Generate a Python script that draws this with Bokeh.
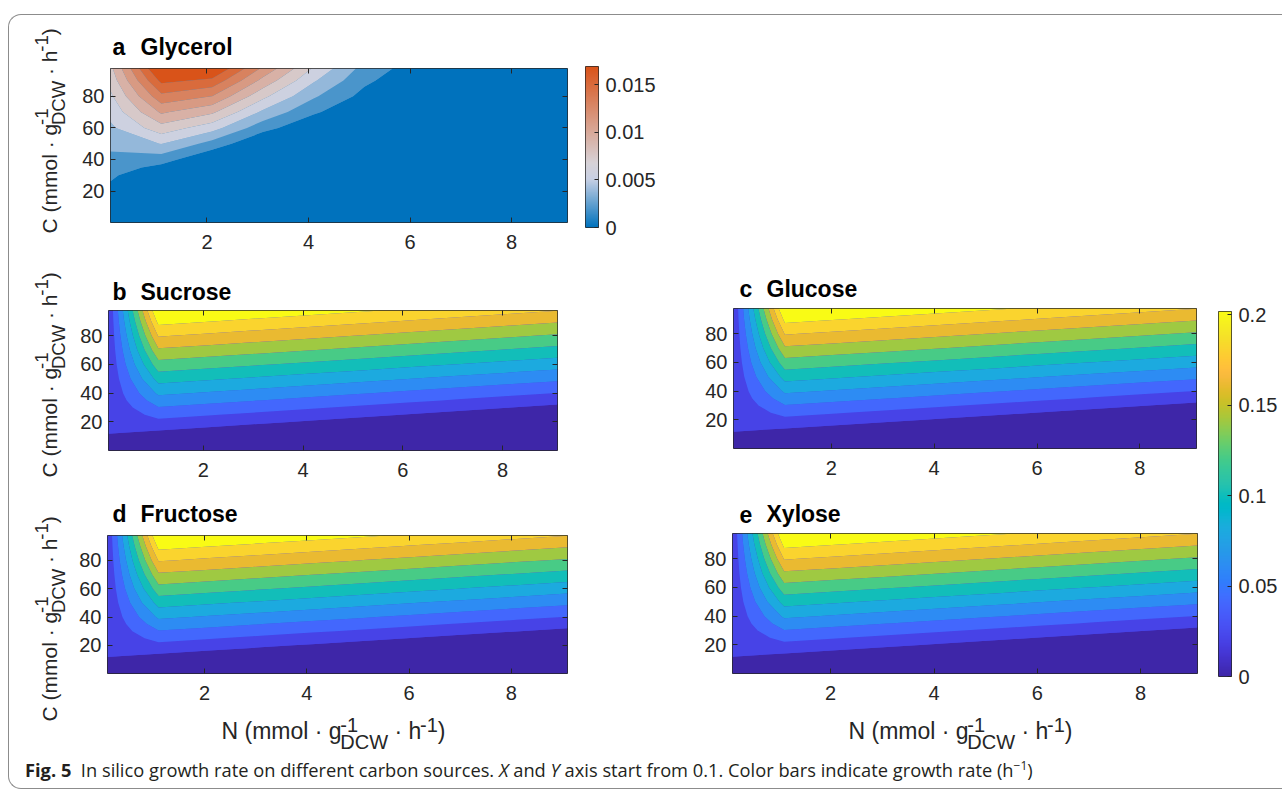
import numpy as np
from bokeh.plotting import figure
from bokeh.models import Range1d, FixedTicker, LinearAxis, Label, LinearColorMapper, Div, Spacer
from bokeh.layouts import row, column
from bokeh.embed import file_html
from bokeh.resources import INLINE

# ------------------------------------------------------------------ data
n_uptake = [0.1, 1.1, 2.1, 3.1, 4.1, 5.1, 6.1, 7.1, 8.1, 9.1]
c_uptake = [0.1, 10, 12.5, 20, 25, 30, 35, 40, 50, 60, 70, 80, 90, 97.6]

glycerol_rate = [
    [0, 0, 0, 0, 0, 0, 0, 0, 0, 0],
    [0.00025, 0, 0, 0, 0, 0, 0, 0, 0, 0],
    [0.00046, 0, 0, 0, 0, 0, 0, 0, 0, 0],
    [0.0011, 0, 0, 0, 0, 0, 0, 0, 0, 0],
    [0.0015, 0, 0, 0, 0, 0, 0, 0, 0, 0],
    [0.0019, 0, 0, 0, 0, 0, 0, 0, 0, 0],
    [0.0024, 0.0011, 0, 0, 0, 0, 0, 0, 0, 0],
    [0.0028, 0.00235, 0, 0, 0, 0, 0, 0, 0, 0],
    [0.0036, 0.00485, 0.0026, 0, 0, 0, 0, 0, 0, 0],
    [0.0045, 0.00735, 0.00546, 0.00218, 0.00026, 0, 0, 0, 0, 0],
    [0.0053, 0.00985, 0.00832, 0.0045, 0.00184, 0.00022, 0, 0, 0, 0],
    [0.0061, 0.01235, 0.01118, 0.00682, 0.00342, 0.00108, 0, 0, 0, 0],
    [0.0070, 0.01485, 0.01404, 0.00914, 0.0050, 0.00194, 0.0004, 0, 0, 0],
    [0.0076, 0.01675, 0.0162, 0.0109, 0.0062, 0.0026, 0.0008, 0, 0, 0],
]

sucrose_rate = [
    [0, 0, 0, 0, 0, 0, 0, 0, 0, 0],
    [0.0155, 0.0100, 0.0045, 0, 0, 0, 0, 0, 0, 0],
    [0.0216, 0.0161, 0.0106, 0.0051, 0, 0, 0, 0, 0, 0],
    [0.0220, 0.0345, 0.0290, 0.0235, 0.0180, 0.0125, 0.0069, 0.0014, 0, 0],
    [0.0220, 0.0468, 0.0412, 0.0357, 0.0302, 0.0247, 0.0192, 0.0137, 0.0082, 0.0027],
    [0.0220, 0.0590, 0.0535, 0.0480, 0.0425, 0.0370, 0.0314, 0.0259, 0.0204, 0.0149],
    [0.0220, 0.0713, 0.0657, 0.0602, 0.0547, 0.0492, 0.0437, 0.0382, 0.0327, 0.0272],
    [0.0220, 0.0835, 0.0780, 0.0725, 0.0670, 0.0615, 0.0559, 0.0504, 0.0449, 0.0394],
    [0.0220, 0.1080, 0.1025, 0.0970, 0.0915, 0.0860, 0.0804, 0.0749, 0.0694, 0.0639],
    [0.0220, 0.1325, 0.1270, 0.1215, 0.1160, 0.1105, 0.1049, 0.0994, 0.0939, 0.0884],
    [0.0220, 0.1570, 0.1515, 0.1460, 0.1405, 0.1350, 0.1294, 0.1239, 0.1184, 0.1129],
    [0.0220, 0.1815, 0.1760, 0.1705, 0.1650, 0.1595, 0.1539, 0.1484, 0.1429, 0.1374],
    [0.0220, 0.2060, 0.2005, 0.1950, 0.1895, 0.1840, 0.1784, 0.1729, 0.1674, 0.1619],
    [0.0220, 0.2246, 0.2191, 0.2136, 0.2081, 0.2026, 0.1971, 0.1915, 0.1860, 0.1805],
]

glucose_rate = [
    [0, 0, 0, 0, 0, 0, 0, 0, 0, 0],
    [0.0155, 0.0100, 0.0045, 0, 0, 0, 0, 0, 0, 0],
    [0.0216, 0.0161, 0.0106, 0.0051, 0, 0, 0, 0, 0, 0],
    [0.0220, 0.0345, 0.0290, 0.0235, 0.0180, 0.0125, 0.0069, 0.0014, 0, 0],
    [0.0220, 0.0468, 0.0412, 0.0357, 0.0302, 0.0247, 0.0192, 0.0137, 0.0082, 0.0027],
    [0.0220, 0.0590, 0.0535, 0.0480, 0.0425, 0.0370, 0.0314, 0.0259, 0.0204, 0.0149],
    [0.0220, 0.0713, 0.0657, 0.0602, 0.0547, 0.0492, 0.0437, 0.0382, 0.0327, 0.0272],
    [0.0220, 0.0835, 0.0780, 0.0725, 0.0670, 0.0615, 0.0559, 0.0504, 0.0449, 0.0394],
    [0.0220, 0.1080, 0.1025, 0.0970, 0.0915, 0.0860, 0.0804, 0.0749, 0.0694, 0.0639],
    [0.0220, 0.1325, 0.1270, 0.1215, 0.1160, 0.1105, 0.1049, 0.0994, 0.0939, 0.0884],
    [0.0220, 0.1570, 0.1515, 0.1460, 0.1405, 0.1350, 0.1294, 0.1239, 0.1184, 0.1129],
    [0.0220, 0.1815, 0.1760, 0.1705, 0.1650, 0.1595, 0.1539, 0.1484, 0.1429, 0.1374],
    [0.0220, 0.2060, 0.2005, 0.1950, 0.1895, 0.1840, 0.1784, 0.1729, 0.1674, 0.1619],
    [0.0220, 0.2246, 0.2191, 0.2136, 0.2081, 0.2026, 0.1971, 0.1915, 0.1860, 0.1805],
]

fructose_rate = [
    [0, 0, 0, 0, 0, 0, 0, 0, 0, 0],
    [0.0155, 0.0100, 0.0045, 0, 0, 0, 0, 0, 0, 0],
    [0.0216, 0.0161, 0.0106, 0.0051, 0, 0, 0, 0, 0, 0],
    [0.0220, 0.0345, 0.0290, 0.0235, 0.0180, 0.0125, 0.0069, 0.0014, 0, 0],
    [0.0220, 0.0468, 0.0412, 0.0357, 0.0302, 0.0247, 0.0192, 0.0137, 0.0082, 0.0027],
    [0.0220, 0.0590, 0.0535, 0.0480, 0.0425, 0.0370, 0.0314, 0.0259, 0.0204, 0.0149],
    [0.0220, 0.0713, 0.0657, 0.0602, 0.0547, 0.0492, 0.0437, 0.0382, 0.0327, 0.0272],
    [0.0220, 0.0835, 0.0780, 0.0725, 0.0670, 0.0615, 0.0559, 0.0504, 0.0449, 0.0394],
    [0.0220, 0.1080, 0.1025, 0.0970, 0.0915, 0.0860, 0.0804, 0.0749, 0.0694, 0.0639],
    [0.0220, 0.1325, 0.1270, 0.1215, 0.1160, 0.1105, 0.1049, 0.0994, 0.0939, 0.0884],
    [0.0220, 0.1570, 0.1515, 0.1460, 0.1405, 0.1350, 0.1294, 0.1239, 0.1184, 0.1129],
    [0.0220, 0.1815, 0.1760, 0.1705, 0.1650, 0.1595, 0.1539, 0.1484, 0.1429, 0.1374],
    [0.0220, 0.2060, 0.2005, 0.1950, 0.1895, 0.1840, 0.1784, 0.1729, 0.1674, 0.1619],
    [0.0220, 0.2246, 0.2191, 0.2136, 0.2081, 0.2026, 0.1971, 0.1915, 0.1860, 0.1805],
]

xylose_rate = [
    [0, 0, 0, 0, 0, 0, 0, 0, 0, 0],
    [0.0155, 0.0100, 0.0045, 0, 0, 0, 0, 0, 0, 0],
    [0.0216, 0.0161, 0.0106, 0.0051, 0, 0, 0, 0, 0, 0],
    [0.0220, 0.0345, 0.0290, 0.0235, 0.0180, 0.0125, 0.0069, 0.0014, 0, 0],
    [0.0220, 0.0468, 0.0412, 0.0357, 0.0302, 0.0247, 0.0192, 0.0137, 0.0082, 0.0027],
    [0.0220, 0.0590, 0.0535, 0.0480, 0.0425, 0.0370, 0.0314, 0.0259, 0.0204, 0.0149],
    [0.0220, 0.0713, 0.0657, 0.0602, 0.0547, 0.0492, 0.0437, 0.0382, 0.0327, 0.0272],
    [0.0220, 0.0835, 0.0780, 0.0725, 0.0670, 0.0615, 0.0559, 0.0504, 0.0449, 0.0394],
    [0.0220, 0.1080, 0.1025, 0.0970, 0.0915, 0.0860, 0.0804, 0.0749, 0.0694, 0.0639],
    [0.0220, 0.1325, 0.1270, 0.1215, 0.1160, 0.1105, 0.1049, 0.0994, 0.0939, 0.0884],
    [0.0220, 0.1570, 0.1515, 0.1460, 0.1405, 0.1350, 0.1294, 0.1239, 0.1184, 0.1129],
    [0.0220, 0.1815, 0.1760, 0.1705, 0.1650, 0.1595, 0.1539, 0.1484, 0.1429, 0.1374],
    [0.0220, 0.2060, 0.2005, 0.1950, 0.1895, 0.1840, 0.1784, 0.1729, 0.1674, 0.1619],
    [0.0220, 0.2246, 0.2191, 0.2136, 0.2081, 0.2026, 0.1971, 0.1915, 0.1860, 0.1805],
]

x_ticks = [2, 4, 6, 8]
y_ticks = [20, 40, 60, 80]
glycerol_levels = [-0.0001, 0.0016, 0.0032, 0.0048, 0.0064, 0.0080, 0.0096, 0.0112, 0.0128, 0.0144, 0.03]
sugar_levels = [-0.001, 0.02, 0.04, 0.06, 0.08, 0.10, 0.12, 0.14, 0.16, 0.18, 0.20, 0.30]
glycerol_cbar_ticks = [0, 0.005, 0.01, 0.015]
glycerol_cbar_labels = ["0", "0.005", "0.01", "0.015"]
sugar_cbar_ticks = [0, 0.05, 0.1, 0.15, 0.2]
sugar_cbar_labels = ["0", "0.05", "0.1", "0.15", "0.2"]
glycerol_cbar_max = 0.0169
sugar_cbar_max = 0.2017

# ------------------------------------------------------------------ colours
PARULA = [
    (0.2422, 0.1504, 0.6603), (0.2504, 0.1650, 0.7076), (0.2578, 0.1818, 0.7511), (0.2647, 0.1978, 0.7952),
    (0.2706, 0.2147, 0.8364), (0.2751, 0.2342, 0.8710), (0.2783, 0.2559, 0.8991), (0.2803, 0.2782, 0.9221),
    (0.2813, 0.3006, 0.9414), (0.2810, 0.3228, 0.9579), (0.2795, 0.3447, 0.9717), (0.2760, 0.3667, 0.9829),
    (0.2699, 0.3892, 0.9906), (0.2602, 0.4123, 0.9952), (0.2440, 0.4358, 0.9988), (0.2206, 0.4603, 0.9973),
    (0.1963, 0.4847, 0.9892), (0.1834, 0.5074, 0.9798), (0.1786, 0.5289, 0.9682), (0.1764, 0.5499, 0.9520),
    (0.1687, 0.5703, 0.9359), (0.1540, 0.5902, 0.9218), (0.1460, 0.6091, 0.9079), (0.1380, 0.6276, 0.8973),
    (0.1248, 0.6459, 0.8883), (0.1113, 0.6635, 0.8763), (0.0952, 0.6798, 0.8598), (0.0689, 0.6948, 0.8394),
    (0.0297, 0.7082, 0.8163), (0.0036, 0.7203, 0.7917), (0.0067, 0.7312, 0.7660), (0.0433, 0.7411, 0.7394),
    (0.0964, 0.7500, 0.7120), (0.1408, 0.7584, 0.6842), (0.1717, 0.7670, 0.6554), (0.1938, 0.7758, 0.6251),
    (0.2161, 0.7843, 0.5923), (0.2470, 0.7918, 0.5567), (0.2906, 0.7973, 0.5188), (0.3406, 0.8008, 0.4789),
    (0.3909, 0.8029, 0.4354), (0.4456, 0.8024, 0.3909), (0.5044, 0.7993, 0.3480), (0.5616, 0.7942, 0.3045),
    (0.6174, 0.7876, 0.2612), (0.6720, 0.7793, 0.2227), (0.7242, 0.7698, 0.1910), (0.7738, 0.7598, 0.1646),
    (0.8203, 0.7498, 0.1535), (0.8634, 0.7406, 0.1596), (0.9035, 0.7330, 0.1774), (0.9393, 0.7288, 0.2100),
    (0.9728, 0.7298, 0.2394), (0.9956, 0.7434, 0.2371), (0.9970, 0.7659, 0.2199), (0.9952, 0.7893, 0.2028),
    (0.9892, 0.8136, 0.1885), (0.9786, 0.8386, 0.1766), (0.9676, 0.8639, 0.1643), (0.9610, 0.8890, 0.1537),
    (0.9597, 0.9135, 0.1423), (0.9628, 0.9373, 0.1265), (0.9691, 0.9606, 0.1064), (0.9769, 0.9839, 0.0805),
]
GLY_ANCHORS = [(0.0, (0, 114, 189)), (0.3, (200, 208, 228)), (0.4, (215, 210, 215)), (1.0, (217, 83, 25))]


def hexc(rgb):
    return "#%02x%02x%02x" % tuple(int(round(max(0, min(255, v)))) for v in rgb)


def parula(t):
    pos = min(max(t, 0.0), 1.0) * (len(PARULA) - 1)
    i = min(int(np.floor(pos)), len(PARULA) - 2)
    f = pos - i
    a, b = PARULA[i], PARULA[i + 1]
    return hexc([255 * (a[k] + (b[k] - a[k]) * f) for k in range(3)])


def gly_cmap(t):
    t = min(max(t, 0.0), 1.0)
    for (t0, c0), (t1, c1) in zip(GLY_ANCHORS[:-1], GLY_ANCHORS[1:]):
        if t <= t1:
            f = (t - t0) / (t1 - t0)
            return hexc([c0[k] + (c1[k] - c0[k]) * f for k in range(3)])
    return hexc(GLY_ANCHORS[-1][1])


sugar_colors = [parula(i / 10) for i in range(11)]
glycerol_colors = [gly_cmap(i / 9) for i in range(10)]
parula256 = [parula(i / 255) for i in range(256)]
gly256 = [gly_cmap(i / 255) for i in range(256)]

FONT = "Liberation Sans"
AX = "#262626"
BASE_FIX = 0.4   # observed downward drift of 'alphabetic' labels, in em

HW = {'N': 722, 'C': 722, ' ': 278, '(': 333, ')': 333, 'm': 833, 'o': 556, 'l': 222, '·': 278,
      'g': 556, 'h': 556, 'D': 722, 'W': 944, '-': 333, '1': 556}


def tw(s, size):
    return sum(HW[ch] for ch in s) * size / 1000.0


def add_text(p, fr, x, y, text, size, bold=False, angle=0.0, color=AX):
    # x, y: figure-local pixels (top-based, baseline start) -> frame-relative screen units
    if angle == 0:
        y = y - BASE_FIX * size
    else:
        x = x - BASE_FIX * size
    p.add_layout(Label(x=x - fr[0], y=fr[3] - y, x_units="screen", y_units="screen", text=text,
                       angle=angle, text_font=FONT, text_font_size="%.1fpx" % size,
                       text_font_style="bold" if bold else "normal", text_color=color,
                       text_align="left", text_baseline="alphabetic"))


def unit_label(p, fr, head, x0, y0, M, S, up, down, rotated):
    parts = []
    a = 0.0
    main1 = head + " (mmol · g"
    parts.append((a, 0, main1, M)); a += tw(main1, M)
    parts.append((a, -up, "-1", S)); parts.append((a, down, "DCW", S))
    a += max(tw("-1", S), tw("DCW", S))
    parts.append((a + tw(" ", M), 0, "· h", M)); a += tw(" · h", M)
    parts.append((a, -up, "-1", S)); a += tw("-1", S)
    parts.append((a, 0, ")", M))
    for along, perp, txt, sz in parts:
        if rotated:
            add_text(p, fr, x0 + perp, y0 - along, txt, sz, angle=np.pi / 2)
        else:
            add_text(p, fr, x0 + along, y0 + perp, txt, sz)


def text_fig(W, H, l=0, rb=0):
    # borders equal to the neighbouring panel so that column alignment is a no-op
    p = figure(width=W, height=H, x_range=Range1d(0, W), y_range=Range1d(0, H),
               output_backend="svg", toolbar_location=None, title=None,
               x_axis_location=None, y_axis_location=None,
               min_border=0, min_border_left=l, min_border_right=rb, min_border_top=0, min_border_bottom=0)
    p.grid.visible = False
    p.outline_line_color = None
    p.background_fill_color = None
    p.border_fill_color = None
    return p, (l, 0, W - rb, H)


def title_fig(W, H, l, rb, letter, name, xl, xn, yb):
    p, fr = text_fig(W, H, l, rb)
    add_text(p, fr, xl, yb, letter, 23, bold=True, color="#000000")
    add_text(p, fr, xn, yb, name, 23, bold=True, color="#000000")
    return p


def style_axis(ax, ticks, labels=True, standoff=6):
    ax.ticker = FixedTicker(ticks=ticks)
    ax.axis_line_color = None
    ax.major_tick_line_color = AX
    ax.major_tick_in = 5
    ax.major_tick_out = 0
    ax.minor_tick_line_color = None
    ax.major_label_text_font = FONT
    ax.major_label_text_color = AX
    ax.major_label_standoff = standoff
    if labels:
        ax.major_label_text_font_size = "20px"
    else:
        ax.major_label_text_font_size = "0px"
        ax.major_label_standoff = 0
        ax.major_label_overrides = {t: "" for t in ticks}


def make_panel(rate, levels, colors, W, H, fr):
    l, t, r, b = fr
    p = figure(width=W, height=H, x_range=Range1d(0.1, 9.1), y_range=Range1d(0.1, 97.6),
               output_backend="svg", toolbar_location=None, title=None,
               min_border_left=l, min_border_top=t, min_border_right=W - r, min_border_bottom=H - b)
    p.contour(x=np.array(n_uptake), y=np.array(c_uptake), z=np.array(rate, dtype=float),
              levels=levels, fill_color=colors)
    p.grid.visible = False
    p.background_fill_color = colors[1]
    p.outline_line_color = AX
    p.outline_line_alpha = 1.0
    p.outline_line_width = 1
    style_axis(p.xaxis[0], x_ticks, True, 12)
    style_axis(p.yaxis[0], y_ticks, True, 6)
    top = LinearAxis()
    style_axis(top, x_ticks, False)
    p.add_layout(top, "above")
    right = LinearAxis()
    style_axis(right, y_ticks, False)
    p.add_layout(right, "right")
    return p


def make_cbar(palette, high, ticks, labels, W, H, fr):
    l, t, r, b = fr
    p = figure(width=W, height=H, x_range=Range1d(0, 1), y_range=Range1d(0, high),
               output_backend="svg", toolbar_location=None, title=None, y_axis_location="right",
               min_border_left=l, min_border_top=t, min_border_right=W - r, min_border_bottom=H - b)
    mapper = LinearColorMapper(palette=palette, low=0, high=high)
    p.image(image=[np.linspace(0, high, 256).reshape(256, 1)], x=0, y=0, dw=1, dh=high,
            color_mapper=mapper)
    p.xaxis.visible = False
    p.grid.visible = False
    p.outline_line_color = AX
    p.outline_line_alpha = 1.0
    ax = p.yaxis[0]
    style_axis(ax, ticks, True, 7)
    ax.major_tick_in = 4
    ax.major_label_overrides = {tk: lb for tk, lb in zip(ticks, labels)}
    return p


# ------------------------------------------------------------------ figures
# shared rotated y labels (page x 9..75, y 15..754)
ylab, frY = text_fig(66, 739)
unit_label(ylab, frY, "C", 48, 218, 21, 18.5, 9, 8, True)
unit_label(ylab, frY, "C", 48, 462, 21, 18.5, 9, 8, True)
unit_label(ylab, frY, "C", 48, 706, 21, 18.5, 9, 8, True)

# a Glycerol (page x 75..575)
tA = title_fig(500, 47, 35, 8, "a", "Glycerol", 37, 65, 41)
pA = make_panel(glycerol_rate, glycerol_levels, glycerol_colors, 500, 195, (35, 6, 492, 160))
cbA = make_cbar(gly256, glycerol_cbar_max, glycerol_cbar_ticks, glycerol_cbar_labels, 90, 242, (10, 51, 23, 212))

# b Sucrose (page x 75..640, y 257..493)
tB = title_fig(565, 48, 33, 83, "b", "Sucrose", 37, 65, 44)
pB = make_panel(sucrose_rate, sugar_levels, sugar_colors, 565, 188, (33, 5, 482, 145))

# d Fructose (page x 75..640, y 493..754)
tD = title_fig(565, 36, 32, 73, "d", "Fructose", 37, 65, 30)
pD = make_panel(fructose_rate, sugar_levels, sugar_colors, 565, 180, (32, 6, 492, 144))
xD, frXD = text_fig(565, 45, 32, 73)
unit_label(xD, frXD, "N", 146, 31, 23, 20, 8, 9, False)

# c Glucose (page x 640..1205, y 257..493)
tC = title_fig(565, 46, 93, 9, "c", "Glucose", 99, 126, 41)
pC = make_panel(glucose_rate, sugar_levels, sugar_colors, 565, 190, (93, 5, 556, 145))

# e Xylose (page x 640..1205, y 493..754)
tE = title_fig(565, 36, 92, 8, "e", "Xylose", 99, 126, 30)
pE = make_panel(xylose_rate, sugar_levels, sugar_colors, 565, 180, (92, 4, 557, 144))
xE, frXE = text_fig(565, 45, 92, 8)
unit_label(xE, frXE, "N", 208, 31, 23, 20, 8, 9, False)

# shared colour bar (page x 1205..1282, y 257..754)
cbM = make_cbar(parula256, sugar_cbar_max, sugar_cbar_ticks, sugar_cbar_labels, 77, 497, (13, 54, 26, 419))

caption = Div(width=1273, height=34, margin=0, text=(
    '<div style="font-family:\'Open Sans\';font-size:18.3px;color:#231f20;padding:1px 0 0 16px;'
    'white-space:nowrap;line-height:22px"><b>Fig.&nbsp;5</b>&nbsp;&nbsp;In silico growth rate on different '
    'carbon sources. <i>X</i> and <i>Y</i> axis start from 0.1. Color bars indicate growth rate '
    '(h<sup style="font-size:12px">&minus;1</sup>)</div>'))

row1 = row(column(tA, pA), cbA)
grid4 = column(row(column(tB, pB), column(tC, pC)),
               row(column(tD, pD, xD), column(tE, pE, xE)))
block = row(grid4, cbM)
right_part = column(row1, block)
inner = column(row(ylab, right_part), caption,
               styles={"border": "1px solid #8c8c8c", "border-right": "none",
                       "border-radius": "13px 0 0 13px", "background": "white"})
page = column(Spacer(width=10, height=14), row(Spacer(width=8, height=10), inner))

open("out.html", "w").write(file_html(page, INLINE))
